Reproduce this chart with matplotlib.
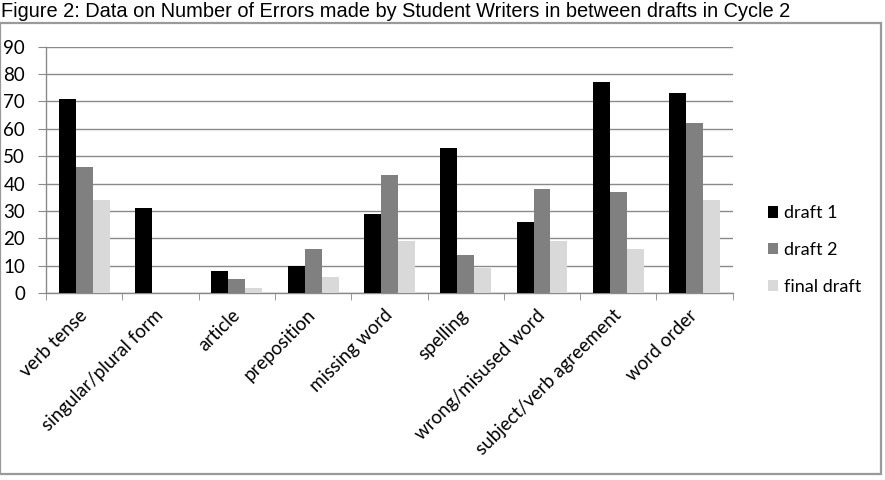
import numpy as np
import matplotlib
matplotlib.use("Agg")
import matplotlib.pyplot as plt
from matplotlib.patches import Rectangle

categories = [
    "verb tense",
    "singular/plural form",
    "article",
    "preposition",
    "missing word",
    "spelling",
    "wrong/misused word",
    "subject/verb agreement",
    "word order",
]
draft1 = [71, 31, 8, 10, 29, 53, 26, 77, 73]
draft2 = [46, 0, 5, 16, 43, 14, 38, 37, 62]
final_draft = [34, 0, 2, 6, 19, 9, 19, 16, 34]
series_names = ["draft 1", "draft 2", "final draft"]
series_colors = ["#000000", "#808080", "#d9d9d9"]
yticks = [0, 10, 20, 30, 40, 50, 60, 70, 80, 90]

title = "Figure 2: Data on Number of Errors made by Student Writers in between drafts in Cycle 2"

plt.rcParams["font.family"] = ["Lato", "DejaVu Sans"]

fig = plt.figure(figsize=(8.85, 4.8), dpi=100)
fig.patch.set_facecolor("white")

# outer chart frame
fig.patches.append(
    Rectangle((0.0, 0.012), 0.995, 0.94, transform=fig.transFigure,
              fill=False, edgecolor="#9a9a9a", linewidth=1.6)
)

fig.text(0.001, 0.977, title, ha="left", va="center", fontsize=14.4,
         family=["Liberation Sans"])

ax = fig.add_axes([0.052, 0.3896, 0.776, 0.5131])

x = np.arange(len(categories))
width = 0.222
for i, (vals, name, col) in enumerate(zip([draft1, draft2, final_draft], series_names, series_colors)):
    ax.bar(x + (i - 1) * width, vals, width, color=col, label=name, zorder=3)

ax.set_xlim(-0.5, len(categories) - 0.5)
ax.set_ylim(0, 90)
ax.set_yticks(yticks)
ax.yaxis.grid(True, color="#8a8a8a", linewidth=1.0, zorder=0)
ax.set_axisbelow(True)

for s in ["top", "right"]:
    ax.spines[s].set_visible(False)
for s in ["left", "bottom"]:
    ax.spines[s].set_color("#8a8a8a")
    ax.spines[s].set_linewidth(1.0)

ax.tick_params(axis="y", length=6, color="#8a8a8a", labelsize=13.5, pad=9)
ax.set_xticks(x)
ax.set_xticklabels(categories, rotation=45, ha="right", va="center",
                   rotation_mode="anchor", fontsize=13.5)
ax.tick_params(axis="x", which="major", length=0, pad=14)
ax.set_xticks(np.arange(-0.5, len(categories), 1.0), minor=True)
ax.tick_params(axis="x", which="minor", length=5, color="#8a8a8a")

ax.legend(loc="center left", bbox_to_anchor=(0.849, 0.479), bbox_transform=fig.transFigure,
          frameon=False, fontsize=13, handlelength=0.6, handleheight=0.6,
          handletextpad=0.3, labelspacing=1.15)

fig.savefig("out.png", dpi=100)
